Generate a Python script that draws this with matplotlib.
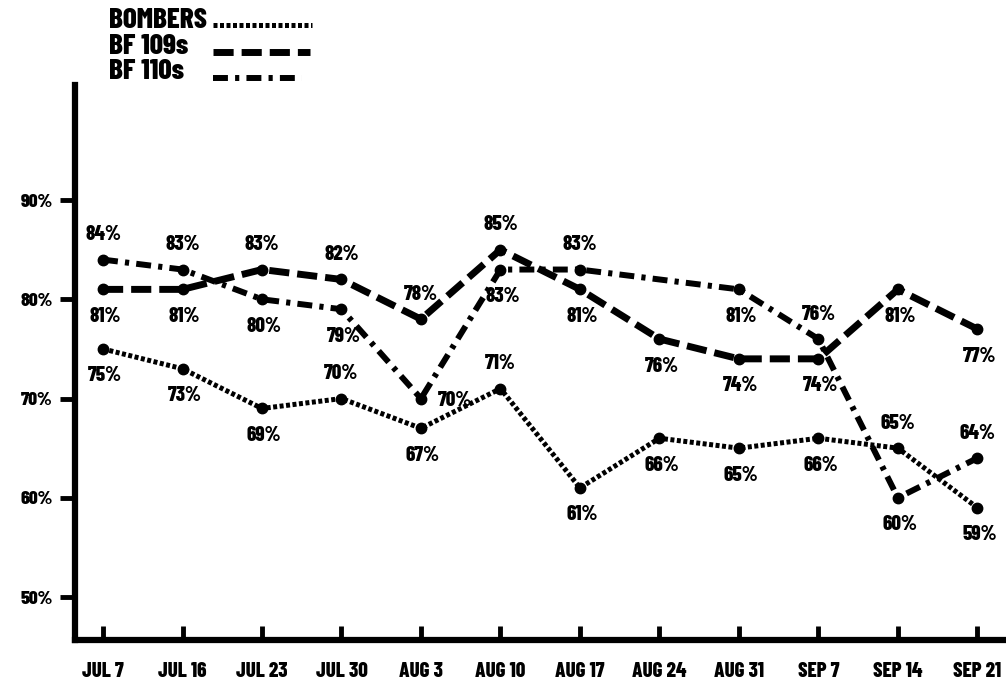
from matplotlib import pyplot as plt

weeks = ["JUL 7", "JUL 16", "JUL 23", "JUL 30", "AUG 3", "AUG 10",
         "AUG 17", "AUG 24", "AUG 31", "SEP 7", "SEP 14", "SEP 21"]
bombers = [75, 73, 69, 70, 67, 71, 61, 66, 65, 66, 65, 59]
bf109 = [81, 81, 83, 82, 78, 85, 81, 76, 74, 74, 81, 77]
bf110 = [84, 83, 80, 79, 70, 83, 83, None, 81, 76, 60, 64]
y_ticks = [50, 60, 70, 80, 90]

# where each value label sits: a = above, b = below, r = right
bombers_pos = "bbbababbbbab"
bf109_pos = "bbaaaabbbbbb"
bf110_pos = "aabbrba-baba"

plt.rcParams['font.family'] = ['Barlow Condensed', 'DejaVu Sans']
plt.rcParams['font.weight'] = 800

fig = plt.figure(figsize=(10.06, 6.97), dpi=100)
ax = fig.add_axes([0.0746, 0.0818, 0.9254, 0.7963])

styles = [
    (bombers, bombers_pos, dict(lw=3.6, ls=(0, (0.8, 0.5)))),
    (bf109, bf109_pos, dict(lw=5.0, ls=(0, (2.9, 1.15)))),
    (bf110, bf110_pos, dict(lw=4.3, ls=(0, (2.5, 1.2, 0.7, 1.2)))),
]
offsets = {"a": (0, 25), "b": (2, -27), "r": (34, -2)}
for vals, pos, st in styles:
    pts = [(i, v) for i, v in enumerate(vals) if v is not None]
    xs = [p[0] for p in pts]
    ys = [p[1] for p in pts]
    ax.plot(xs, ys, color='black', dash_capstyle='butt', **st)
    ax.plot(xs, ys, 'o', color='black', ms=7.5)
    for (xi, v), p in zip(pts, pos.replace('-', '')):
        ax.annotate(f"{v}%", (xi, v), xytext=offsets[p], textcoords='offset pixels',
                    ha='center', va='center', fontsize=15, fontweight=800)

ax.set_xlim(-0.352, 11.36)
ax.set_ylim(45.67, 101.6)
ax.set_yticks(y_ticks)
ax.set_yticklabels([f"{t}%" for t in y_ticks], fontsize=14, fontweight=800)
ax.set_xticks(range(len(weeks)))
ax.set_xticklabels(weeks, fontsize=15, fontweight=800)
ax.tick_params(axis='y', direction='out', length=11, width=3.5, pad=5)
ax.tick_params(axis='x', direction='in', length=10, width=3.5, pad=16)
for s in ['top', 'right']:
    ax.spines[s].set_visible(False)
ax.spines['left'].set_linewidth(4.5)
ax.spines['bottom'].set_linewidth(4.5)

# legend drawn as text and sample lines
leg = [("BOMBERS", styles[0][2], 0.970, 0.964, 0.31),
       ("BF 109s", styles[1][2], 0.933, 0.925, 0.308),
       ("BF 110s", styles[2][2], 0.898, 0.888, 0.30)]
for name, st, ty, ly, x_end in leg:
    fig.text(0.108, ty, name, fontsize=21, fontweight=800, va='center')
    fig.add_artist(plt.Line2D([0.212, x_end], [ly, ly], color='black',
                              transform=fig.transFigure, dash_capstyle='butt', **st))

fig.savefig("out.png", dpi=100)
